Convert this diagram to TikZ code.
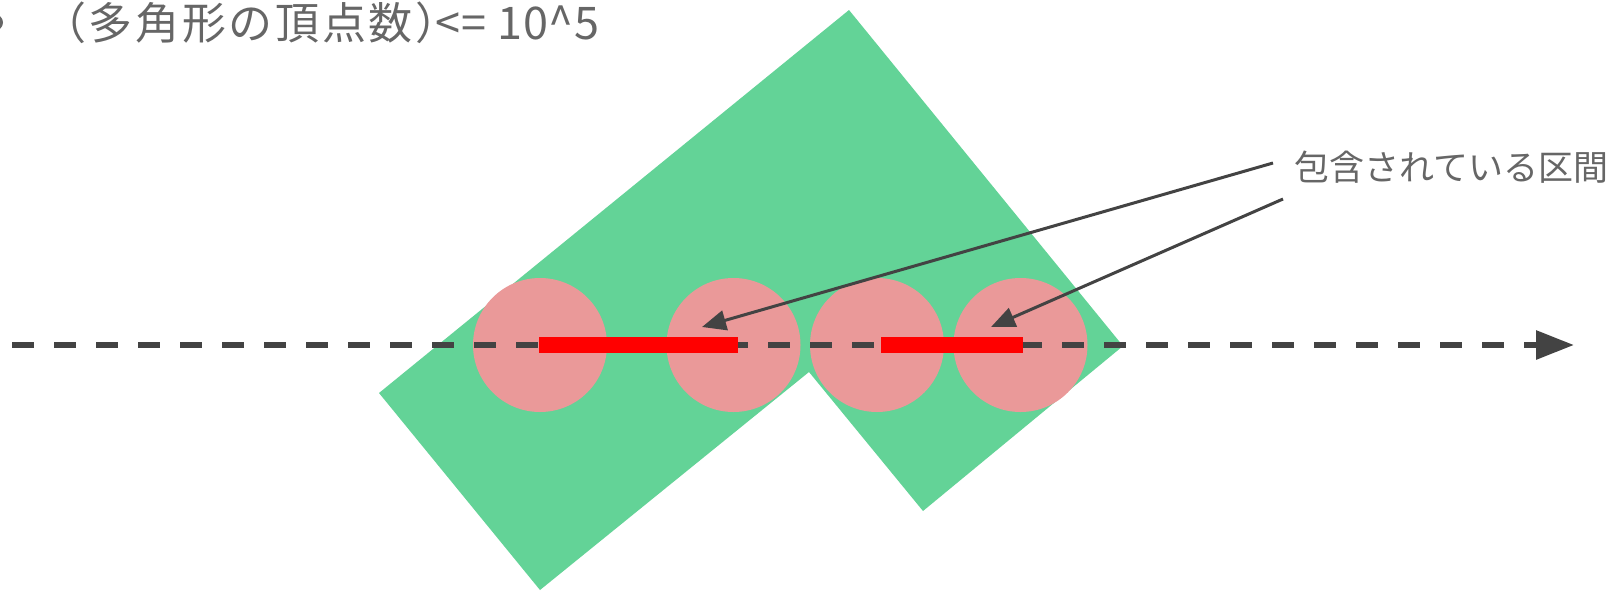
\documentclass[tikz,border=0pt]{standalone}
\usepackage{fontspec}
\setmainfont{Noto Sans CJK JP}
\usetikzlibrary{arrows.meta,positioning}
\definecolor{polygreen}{HTML}{63D397}
\definecolor{discpink}{HTML}{EA9999}
\definecolor{linegray}{HTML}{434343}
\definecolor{txtgray}{HTML}{666666}

\begin{document}
\begin{tikzpicture}[x=1pt, y=-1pt,
  lbl/.style={text=txtgray, inner sep=0pt},
  disc/.style={circle, fill=discpink, minimum size=134pt, inner sep=0pt},
  seg/.style={draw=red, line width=16pt},
  axis/.style={draw=linegray, line width=6pt, dash pattern=on 22pt off 20pt, -{Triangle[length=38pt,width=28pt]}},
  ptr/.style={draw=linegray, line width=3pt, -{Triangle[length=24pt,width=20pt]}}]
\useasboundingbox (0,0) rectangle (1610,590);
% polygon
\fill[polygreen] (379,393) -- (849,10) -- (1123,346) -- (923,511) -- (809,372) -- (540,590) -- cycle;
% circles around the vertices on the line
\foreach \x/\n in {540/c1, 733.5/c2, 877/c3, 1020.5/c4}
  \node[disc] (\n) at (\x,345) {};
% scan line
\coordinate (ls) at (12,345);
\coordinate (le) at (1574,345);
\draw[axis] (ls) -- (le);
% contained intervals
\draw[seg] ([xshift=-1pt]c1.center) -- ([xshift=4.5pt]c2.center);
\draw[seg] ([xshift=4pt]c3.center) -- ([xshift=2.5pt]c4.center);
% labels
\fill[txtgray] (-5,22.5) circle (8);
\node[lbl, anchor=base west] (cnt) at (42,39)
  {{\fontsize{44}{44}\selectfont\addfontfeature{LetterSpace=6}（多角形の頂点数）}\hspace{-24pt}{\fontsize{45}{45}\selectfont\addfontfeature{LetterSpace=2}<= 10\textasciicircum 5}};
\node[lbl, font=\fontsize{35}{35}\selectfont, anchor=west] (inc) at (1294,167) {包含されている区間};
\coordinate (t1) at (702,327);
\coordinate (t2) at (991,327);
\draw[ptr] ([shift={(-21,-4)}]inc.west) -- (t1);
\draw[ptr] ([shift={(-11,32)}]inc.west) -- (t2);
\end{tikzpicture}
\end{document}
